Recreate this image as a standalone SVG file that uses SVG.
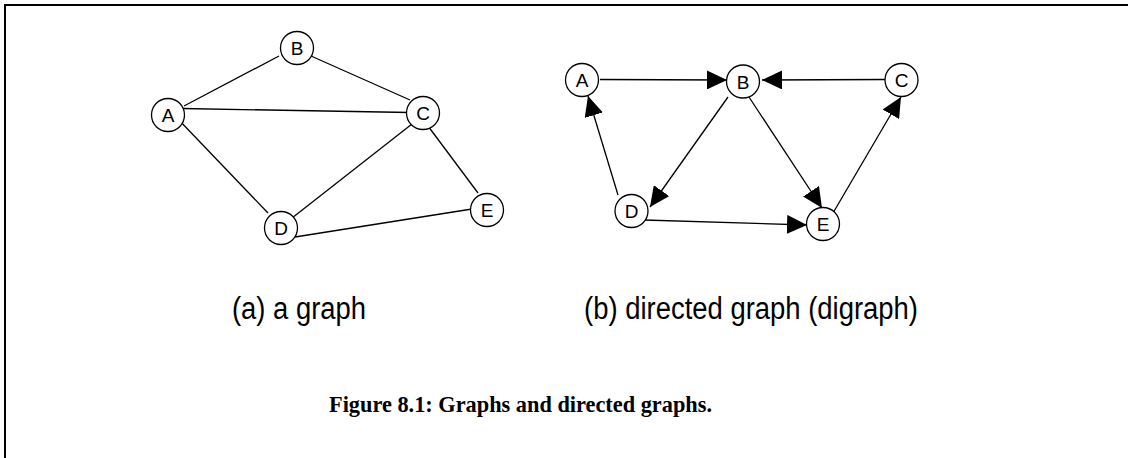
<svg xmlns="http://www.w3.org/2000/svg" width="1128" height="458" viewBox="0 0 1128 458">
<style>
.node circle{fill:#fff;stroke:#000;stroke-width:1.3}
.node text{font-family:"Liberation Sans",Arial,sans-serif;font-size:19px;text-anchor:middle;fill:#000}
.edge{stroke:#000;stroke-width:1.3;fill:none}
.lbl{font-family:"Liberation Sans",Arial,sans-serif;font-size:31px;fill:#000}
.cap{font-family:"Liberation Serif","Times New Roman",serif;font-size:23px;font-weight:bold;fill:#000}
</style>
<defs>
<marker id="arr" viewBox="0 0 20 19" refX="20" refY="9.5" markerWidth="20" markerHeight="19" markerUnits="userSpaceOnUse" orient="auto">
<path d="M0,0 L20,9.5 L0,19 Z" fill="#000"/>
</marker>
</defs>
<path d="M5,460 V5 H1130" fill="none" stroke="#000" stroke-width="2"/>
<g id="connectors">
<line class="edge" x1="184" y1="106" x2="279" y2="56"/>
<line class="edge" x1="311" y1="56" x2="410" y2="100"/>
<line class="edge" x1="182" y1="108.5" x2="410" y2="112.5"/>
<line class="edge" x1="177" y1="118" x2="268" y2="213"/>
<line class="edge" x1="412" y1="124" x2="292" y2="218"/>
<line class="edge" x1="428" y1="126" x2="478" y2="193"/>
<line class="edge" x1="295" y1="237" x2="472" y2="209"/>
<line class="edge" x1="600" y1="79.5" x2="727" y2="80" marker-end="url(#arr)"/>
<line class="edge" x1="885" y1="79.5" x2="762" y2="80" marker-end="url(#arr)"/>
<line class="edge" x1="618" y1="195" x2="588" y2="96" marker-end="url(#arr)"/>
<line class="edge" x1="728" y1="97" x2="650" y2="207" marker-end="url(#arr)"/>
<line class="edge" x1="749" y1="97" x2="822" y2="208" marker-end="url(#arr)"/>
<line class="edge" x1="833" y1="213" x2="901" y2="97" marker-end="url(#arr)"/>
<line class="edge" x1="644" y1="220" x2="807" y2="225" marker-end="url(#arr)"/>
</g>
<g id="a-A" class="node"><circle cx="168" cy="115" r="16.5"/><text x="168" y="122">A</text></g>
<g id="a-B" class="node"><circle cx="297" cy="48" r="16.5"/><text x="297" y="55">B</text></g>
<g id="a-C" class="node"><circle cx="423" cy="113" r="16.5"/><text x="423" y="120">C</text></g>
<g id="a-D" class="node"><circle cx="281" cy="228" r="16.5"/><text x="281" y="235">D</text></g>
<g id="a-E" class="node"><circle cx="487" cy="210" r="16.5"/><text x="487" y="217">E</text></g>
<g id="b-A" class="node"><circle cx="582" cy="80" r="16.5"/><text x="582" y="87">A</text></g>
<g id="b-B" class="node"><circle cx="743" cy="81.5" r="16.5"/><text x="743" y="88.5">B</text></g>
<g id="b-C" class="node"><circle cx="901.5" cy="80" r="16.5"/><text x="901.5" y="87">C</text></g>
<g id="b-D" class="node"><circle cx="631.5" cy="211" r="16.5"/><text x="631.5" y="218">D</text></g>
<g id="b-E" class="node"><circle cx="823" cy="224" r="16.5"/><text x="823" y="231">E</text></g>
<text class="lbl" x="232" y="319" textLength="134" lengthAdjust="spacingAndGlyphs">(a) a graph</text>
<text class="lbl" x="584" y="319" textLength="334" lengthAdjust="spacingAndGlyphs">(b) directed graph (digraph)</text>
<text class="cap" x="329" y="412" textLength="383" lengthAdjust="spacingAndGlyphs">Figure 8.1: Graphs and directed graphs.</text>
</svg>
